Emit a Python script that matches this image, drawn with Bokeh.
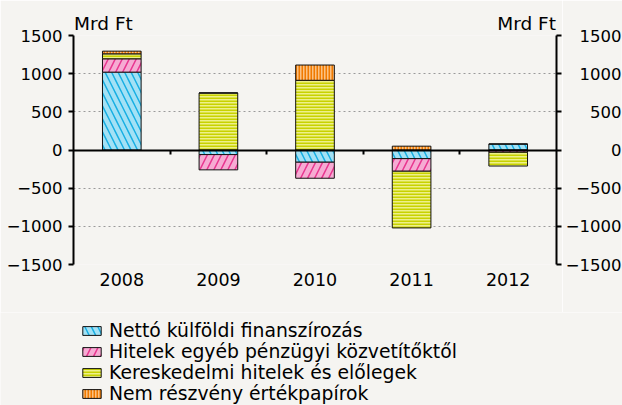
from bokeh.plotting import figure
from bokeh.layouts import row, column
from bokeh.models import (ColumnDataSource, Range1d, LinearAxis,
                          FixedTicker, Legend, LegendItem)
from bokeh.embed import file_html
from bokeh.resources import INLINE

# ---------------- data ----------------
years = ["2008", "2009", "2010", "2011", "2012"]
netto_kulfoldi = [1020, -60, -160, -113, 78]
hitelek_egyeb = [175, -200, -210, -165, -30]
kereskedelmi = [65, 747, 913, -743, -180]
nem_reszveny = [35, 0, 200, 50, 0]
series_names = ["Nettó külföldi finanszírozás",
                "Hitelek egyéb pénzügyi közvetítőktől",
                "Kereskedelmi hitelek és előlegek",
                "Nem részvény értékpapírok"]
y_ticks = [-1500, -1000, -500, 0, 500, 1000, 1500]
unit_label = "Mrd Ft"

# ---------------- styles / layout ----------------
FONT = "DejaVu Sans"
BG = "#f5f4f1"
MAIN_W, STRIP_W = 562, 60
TOP_H, LEG_H = 312, 93
B_LEFT, B_RIGHT, B_TOP = 73, 6, 35
FRAME_H = 229
B_BOTTOM = TOP_H - B_TOP - FRAME_H
styles = [
    dict(fill_color="#a3e1f5", hatch_pattern="left_diagonal_line", hatch_color="#18afe3", hatch_scale=13, hatch_weight=1.5),
    dict(fill_color="#f6abd3", hatch_pattern="right_diagonal_line", hatch_color="#e8358f", hatch_scale=14, hatch_weight=1.5),
    dict(fill_color="#eef08a", hatch_pattern="horizontal_line", hatch_color="#c8d200", hatch_scale=3, hatch_weight=2),
    dict(fill_color="#fbc182", hatch_pattern="vertical_line", hatch_color="#f07a00", hatch_scale=3, hatch_weight=2),
]

# ---------------- stacking (positive up, negative down) ----------------
n = len(years)
centers = [i + 0.5 for i in range(n)]
series = [netto_kulfoldi, hitelek_egyeb, kereskedelmi, nem_reszveny]
pos = [0.0] * n
neg = [0.0] * n
sources = []
for vals in series:
    bottoms, tops = [], []
    for i, v in enumerate(vals):
        if v >= 0:
            b = pos[i]; pos[i] += v
        else:
            b = neg[i]; neg[i] += v
        bottoms.append(b); tops.append(b + v)
    sources.append(ColumnDataSource(dict(x=centers, year=years, bottom=bottoms, top=tops)))

# ---------------- main figure ----------------
p = figure(x_range=Range1d(0, n), y_range=Range1d(y_ticks[0], y_ticks[-1]),
           width=MAIN_W, height=TOP_H, output_backend="svg", toolbar_location=None,
           min_border_left=B_LEFT, min_border_right=B_RIGHT,
           min_border_top=B_TOP, min_border_bottom=B_BOTTOM)
p.title.visible = False
p.background_fill_color = BG
p.border_fill_color = BG
p.outline_line_color = None

for src, st in zip(sources, styles):
    p.vbar(x="x", bottom="bottom", top="top", width=0.4, source=src,
           line_color="#111111", line_width=1, **st)

p.xgrid.visible = False
p.ygrid.ticker = FixedTicker(ticks=y_ticks)
p.ygrid.grid_line_color = "#9a9a9a"
p.ygrid.grid_line_dash = "2 3"
p.ygrid.grid_line_width = 1

# category labels
xa = p.xaxis[0]
xa.ticker = FixedTicker(ticks=centers)
xa.major_label_overrides = {c: y for c, y in zip(centers, years)}
xa.axis_line_color = None
xa.major_tick_line_color = None
xa.minor_tick_line_color = None
xa.major_tick_out = 0
xa.major_tick_in = 0
xa.major_label_standoff = 8
xa.major_label_text_font = FONT
xa.major_label_text_font_size = "17.5px"
xa.major_label_text_color = "#000000"

tick_text = [str(t).replace("-", "\u2212") for t in y_ticks]

ya = p.yaxis[0]
ya.ticker = FixedTicker(ticks=y_ticks)
ya.major_label_overrides = dict(zip(y_ticks, tick_text))
ya.axis_line_width = 2
ya.axis_line_color = "#000000"
ya.major_tick_line_width = 2
ya.major_tick_out = 5
ya.major_tick_in = 0
ya.minor_tick_line_color = None
ya.major_label_standoff = 6
ya.major_label_text_font = FONT
ya.major_label_text_font_size = "16.5px"
ya.major_label_text_color = "#000000"

# right axis line + ticks (labels in strip figure, right aligned)
ra = LinearAxis(ticker=FixedTicker(ticks=y_ticks),
                major_label_overrides={t: "" for t in y_ticks},
                axis_line_width=2, major_tick_line_width=2, major_tick_out=5,
                major_tick_in=0, minor_tick_line_color=None, major_label_standoff=0)
p.add_layout(ra, "right")

# zero line with ticks between categories
boundaries = list(range(1, n))
za = LinearAxis(fixed_location=0, ticker=FixedTicker(ticks=boundaries),
                major_label_overrides={k: "" for k in boundaries},
                axis_line_width=2, major_tick_line_width=2, major_tick_out=4,
                major_tick_in=0, minor_tick_line_color=None, major_label_standoff=0)
p.add_layout(za, "below")

# unit labels above both axes
UNIT_OFF = 0.31
ua = LinearAxis(ticker=FixedTicker(ticks=[UNIT_OFF, n - UNIT_OFF]),
                major_label_overrides={UNIT_OFF: unit_label, n - UNIT_OFF: unit_label},
                axis_line_color=None, major_tick_line_color=None, minor_tick_line_color=None,
                major_tick_out=0, major_tick_in=0, major_label_standoff=2,
                major_label_text_font=FONT, major_label_text_font_size="18.5px",
                major_label_text_color="#000000")
p.add_layout(ua, "above")

# ---------------- right label strip (left axis => right-aligned labels) ----------------
p2 = figure(x_range=Range1d(0, 1), y_range=p.y_range,
            width=STRIP_W, height=TOP_H, output_backend="svg", toolbar_location=None,
            x_axis_type=None,
            min_border_left=STRIP_W - 5, min_border_right=0,
            min_border_top=B_TOP, min_border_bottom=B_BOTTOM)
p2.title.visible = False
p2.grid.visible = False
p2.background_fill_color = BG
p2.border_fill_color = BG
p2.outline_line_color = None
a2 = p2.yaxis[0]
a2.ticker = FixedTicker(ticks=y_ticks)
a2.major_label_overrides = dict(zip(y_ticks, tick_text))
a2.axis_line_color = None
a2.major_tick_line_color = None
a2.minor_tick_line_color = None
a2.major_tick_out = 0
a2.major_tick_in = 0
a2.major_label_standoff = 0
a2.major_label_text_font = FONT
a2.major_label_text_font_size = "16.5px"
a2.major_label_text_color = "#000000"

# ---------------- legend strip ----------------
p3 = figure(x_range=Range1d(0, 1), y_range=Range1d(0, 1),
            width=MAIN_W + STRIP_W, height=LEG_H, output_backend="svg", toolbar_location=None,
            x_axis_type=None, y_axis_type=None,
            min_border_left=0, min_border_right=0, min_border_top=0, min_border_bottom=0)
p3.title.visible = False
p3.grid.visible = False
p3.background_fill_color = BG
p3.border_fill_color = BG
p3.outline_line_color = None
key_renderers = []
for src, st in zip(sources, styles):
    kr = p3.vbar(x="x", bottom="bottom", top="top", width=0.4, source=src,
                 line_color="#111111", line_width=1, **st)
    kr.visible = False
    key_renderers.append(kr)

legend = Legend(items=[LegendItem(label=nm, renderers=[r]) for nm, r in zip(series_names, key_renderers)],
                location=(80, 1), orientation="vertical",
                glyph_width=23, glyph_height=11, label_standoff=6, spacing=-1,
                padding=0, margin=0, border_line_color=None, background_fill_alpha=0,
                inactive_fill_alpha=0,
                label_text_font=FONT, label_text_font_size="18.8px", label_height=21,
                label_text_color="#000000")
p3.add_layout(legend, "center")

layout = column(row(p, p2), p3)
open("out.html", "w").write(file_html(layout, INLINE))
